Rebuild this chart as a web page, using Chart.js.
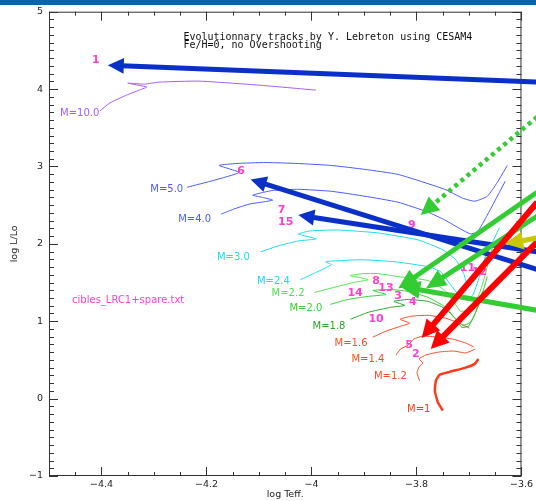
<!DOCTYPE html>
<html>
<head>
<meta charset="utf-8">
<script src="https://cdn.jsdelivr.net/npm/chart.js@4.4.1/dist/chart.umd.min.js"></script>
<style>
  html, body { margin: 0; padding: 0; background: #fff; }
  #wrap { width: 536px; height: 501px; }
</style>
</head>
<body>
<div id="wrap"><canvas id="hr"></canvas></div>
<script>
// axis labels
const xTickLabels = [-4.4, -4.2, -4.0, -3.8, -3.6];
const yTickLabels = [-1, 0, 1, 2, 3, 4, 5];

// evolutionary tracks, points are [-log Teff, log L/Lo]
const m10 = [[-4.403,3.718],[-4.384,3.821],[-4.352,3.923],[-4.328,3.987],[-4.314,4.026],[-4.350,4.077],[-4.318,4.064],[-4.290,4.090],[-4.214,4.103],[-4.100,4.051],[-3.992,3.987]];
const m5 = [[-4.237,2.731],[-4.186,2.821],[-4.138,2.923],[-4.176,3.013],[-4.144,3.038],[-4.087,3.051],[-4.025,3.038],[-3.962,3.013],[-3.898,2.962],[-3.835,2.897],[-3.746,2.705],[-3.712,2.590],[-3.689,2.551],[-3.665,2.615],[-3.646,2.795],[-3.627,3.013]];
const m4 = [[-4.172,2.385],[-4.148,2.449],[-4.119,2.513],[-4.074,2.564],[-4.095,2.603],[-4.112,2.628],[-4.091,2.667],[-4.072,2.692],[-4.025,2.705],[-3.962,2.679],[-3.898,2.615],[-3.835,2.538],[-3.778,2.410],[-3.746,2.308],[-3.716,2.192],[-3.697,2.128],[-3.684,2.154],[-3.665,2.372],[-3.631,2.808]];
const m3 = [[-4.097,1.897],[-4.063,1.974],[-4.025,2.038],[-3.991,2.064],[-4.025,2.128],[-4.002,2.167],[-3.949,2.179],[-3.873,2.141],[-3.797,2.051],[-3.750,1.923],[-3.725,1.795],[-3.710,1.615],[-3.703,1.474],[-3.691,1.513],[-3.674,1.744],[-3.655,2.026],[-3.642,2.205]];
const m24 = [[-4.021,1.538],[-3.992,1.628],[-3.962,1.731],[-3.973,1.769],[-3.949,1.782],[-3.905,1.795],[-3.841,1.769],[-3.778,1.705],[-3.754,1.641],[-3.735,1.474],[-3.722,1.359],[-3.706,1.295],[-3.693,1.333],[-3.680,1.577],[-3.669,1.833],[-3.661,2.026]];
const m22 = [[-3.994,1.372],[-3.958,1.436],[-3.920,1.500],[-3.892,1.538],[-3.926,1.590],[-3.902,1.615],[-3.873,1.615],[-3.835,1.577],[-3.778,1.526],[-3.746,1.397],[-3.727,1.231],[-3.716,1.128],[-3.699,1.154],[-3.680,1.359],[-3.665,1.705],[-3.655,1.962]];
const m20 = [[-3.964,1.218],[-3.930,1.282],[-3.892,1.321],[-3.858,1.346],[-3.883,1.397],[-3.850,1.410],[-3.816,1.385],[-3.778,1.308],[-3.744,1.179],[-3.725,1.026],[-3.712,0.949],[-3.697,0.987],[-3.680,1.231],[-3.665,1.577]];
const m18 = [[-3.926,1.026],[-3.892,1.115],[-3.850,1.179],[-3.822,1.205],[-3.843,1.256],[-3.816,1.282],[-3.778,1.256],[-3.746,1.167],[-3.725,1.026],[-3.714,0.923],[-3.701,0.936],[-3.688,1.103],[-3.674,1.385]];
const m16 = [[-3.883,0.795],[-3.858,0.872],[-3.830,0.936],[-3.813,0.974],[-3.831,1.026],[-3.811,1.064],[-3.778,1.077],[-3.744,1.038],[-3.718,0.974],[-3.699,0.910]];
const m14 = [[-3.839,0.564],[-3.830,0.641],[-3.816,0.692],[-3.805,0.769],[-3.788,0.808],[-3.759,0.795],[-3.731,0.769],[-3.706,0.718],[-3.691,0.667]];
const m12 = [[-3.794,0.231],[-3.799,0.333],[-3.795,0.410],[-3.788,0.462],[-3.795,0.513],[-3.782,0.564],[-3.756,0.603],[-3.729,0.615],[-3.706,0.590],[-3.688,0.641]];
const m1 = [[-3.750,-0.154],[-3.759,-0.051],[-3.765,0.103],[-3.763,0.231],[-3.756,0.308],[-3.737,0.346],[-3.708,0.397],[-3.689,0.449],[-3.682,0.513]];

const trackNames = ['M=10.0','M=5.0','M=4.0','M=3.0','M=2.4','M=2.2','M=2.0','M=1.8','M=1.6','M=1.4','M=1.2','M=1'];
const trackLabelX = [-4.479,-4.307,-4.254,-4.180,-4.104,-4.076,-4.042,-3.998,-3.956,-3.924,-3.881,-3.818];
const trackLabelY = [3.692,2.705,2.321,1.821,1.513,1.359,1.167,0.936,0.718,0.513,0.282,-0.141];

// numbered targets
const targetNames = ['1','6','7','15','9','11','12','8','13','14','3','4','10','5','2'];
const targetX = [-4.411,-4.134,-4.057,-4.049,-3.809,-3.703,-3.680,-3.877,-3.858,-3.917,-3.835,-3.807,-3.877,-3.814,-3.801];
const targetY = [4.372,2.936,2.436,2.282,2.244,1.692,1.628,1.513,1.423,1.359,1.321,1.244,1.026,0.692,0.577];

// arrows: [tail, head]
const blueArrows = [[[-3.570,4.090],[-4.388,4.308]], [[-3.570,1.667],[-4.116,2.833]], [[-3.570,1.897],[-4.025,2.372]]];
const dottedArrows = [[[-3.570,3.641],[-3.792,2.372]]];
const greenArrows = [[[-3.570,2.667],[-3.835,1.423]], [[-3.570,2.359],[-3.782,1.423]], [[-3.570,1.141],[-3.831,1.449]]];
const redArrows = [[[-3.570,2.538],[-3.790,0.782]], [[-3.570,2.026],[-3.773,0.641]]];
const yellowArrows = [[[-3.570,2.077],[-3.631,2.000]]];

const tracks = [m10, m5, m4, m3, m24, m22, m20, m18, m16, m14, m12, m1];
const trackColors = ['#a65cff','#4a5cff','#4a5cff','#19dcf0','#19dcf0','#55e055','#3ccc3c','#2aa52a','#ff4a2a','#ff4a2a','#ff4a2a','#ff3a1a'];

const minus = v => (v < 0 ? '\u2212' : '') + Math.abs(v);

const decor = {
    id: 'decor',
    beforeDraw(chart) {
        const ctx = chart.ctx;
        ctx.save();
        ctx.fillStyle = '#0a64a8';
        ctx.fillRect(0, 0, chart.width, 5);
        ctx.restore();
    },
    beforeDatasetsDraw(chart) {
        const { ctx, chartArea: a, scales: { x, y } } = chart;
        ctx.save();
        ctx.strokeStyle = '#333';
        ctx.lineWidth = 1;
        ctx.strokeRect(a.left + 0.5, a.top + 0.5, a.right - a.left - 1, a.bottom - a.top - 1);
        ctx.beginPath();
        for (let i = 0; i <= 18; i++) {
            const px = Math.round(x.getPixelForValue(-4.5 + i * 0.05)) + 0.5;
            const len = i % 4 === 2 ? 9 : 4;
            ctx.moveTo(px, a.bottom); ctx.lineTo(px, a.bottom - len);
            ctx.moveTo(px, a.top); ctx.lineTo(px, a.top + len);
        }
        for (let i = 0; i <= 60; i++) {
            const py = Math.round(y.getPixelForValue(-1 + i * 0.1)) + 0.5;
            const len = i % 10 === 0 ? 9 : 5;
            ctx.moveTo(a.left, py); ctx.lineTo(a.left + len, py);
            ctx.moveTo(a.right, py); ctx.lineTo(a.right - len, py);
        }
        ctx.stroke();
        ctx.restore();
    },
    afterDatasetsDraw(chart) {
        const { ctx, scales: { x, y } } = chart;
        const P = p => [x.getPixelForValue(p[0]), y.getPixelForValue(p[1])];
        ctx.save();
        ctx.textBaseline = 'middle';

        // title
        ctx.fillStyle = '#111';
        ctx.font = '10px "DejaVu Sans Mono"';
        ctx.textAlign = 'left';
        ctx.fillText('Evolutionnary tracks by Y. Lebreton using CESAM4', x.getPixelForValue(-4.244), y.getPixelForValue(4.667));
        ctx.fillText('Fe/H=0, no Overshooting', x.getPixelForValue(-4.244), y.getPixelForValue(4.564));

        // track names
        ctx.font = '10px "DejaVu Sans"';
        trackNames.forEach((t, i) => {
            ctx.fillStyle = trackColors[i];
            ctx.fillText(t, x.getPixelForValue(trackLabelX[i]), y.getPixelForValue(trackLabelY[i]));
        });

        ctx.fillStyle = '#ff3fd0';
        ctx.fillText('cibles_LRC1+spare.txt', x.getPixelForValue(-4.456), y.getPixelForValue(1.269));

        // targets
        ctx.font = 'bold 11px "DejaVu Sans"';
        ctx.textAlign = 'center';
        targetNames.forEach((t, i) => {
            ctx.fillText(t, x.getPixelForValue(targetX[i]), y.getPixelForValue(targetY[i]));
        });

        // arrows
        const arrow = (list, color, w, L, W, dash) => {
            list.forEach(([t, h]) => {
                const [x0, y0] = P(t), [x1, y1] = P(h);
                const d = Math.hypot(x1 - x0, y1 - y0);
                const ux = (x1 - x0) / d, uy = (y1 - y0) / d;
                const bx = x1 - ux * L, by = y1 - uy * L;
                ctx.strokeStyle = color;
                ctx.fillStyle = color;
                ctx.lineWidth = w;
                ctx.setLineDash(dash || []);
                ctx.beginPath();
                ctx.moveTo(x0, y0);
                ctx.lineTo(bx + ux * 2, by + uy * 2);
                ctx.stroke();
                ctx.setLineDash([]);
                ctx.beginPath();
                ctx.moveTo(x1, y1);
                ctx.lineTo(bx - uy * W, by + ux * W);
                ctx.lineTo(bx + uy * W, by - ux * W);
                ctx.closePath();
                ctx.fill();
            });
        };
        arrow(blueArrows, '#0a30c8', 5, 16, 8);
        arrow(dottedArrows, '#33cc33', 4.5, 18, 9, [4, 4]);
        arrow(greenArrows, '#33cc33', 5, 20, 9);
        arrow(redArrows, '#ff0000', 6, 18, 9);
        arrow(yellowArrows, '#c8c800', 5, 18, 9);
        ctx.restore();
    }
};

new Chart(document.getElementById('hr'), {
    type: 'line',
    data: {
        datasets: tracks.map((tr, i) => ({
            label: trackNames[i],
            data: tr.map(p => ({ x: p[0], y: p[1] })),
            borderColor: trackColors[i],
            borderWidth: i === tracks.length - 1 ? 2.5 : 1,
            pointRadius: 0,
            tension: 0.15,
            fill: false
        }))
    },
    options: {
        responsive: true,
        maintainAspectRatio: false,
        animation: false,
        layout: { padding: { left: 0, right: 12, top: 8, bottom: 0 } },
        plugins: { legend: { display: false }, tooltip: { enabled: false } },
        scales: {
            x: {
                type: 'linear',
                min: -4.5,
                max: -3.6,
                grid: { display: false, drawTicks: false },
                border: { display: false },
                afterBuildTicks: s => { s.ticks = xTickLabels.map(v => ({ value: v })); },
                afterFit: s => { s.height = 25; },
                ticks: {
                    callback: v => minus(v.toFixed(1)),
                    font: { family: 'DejaVu Sans', size: 9.5 },
                    color: '#222',
                    padding: 3,
                    maxRotation: 0,
                    autoSkip: false
                },
                title: {
                    display: true,
                    text: 'log Teff.',
                    font: { family: 'DejaVu Sans', size: 9.5 },
                    color: '#222',
                    padding: { top: 0, bottom: 1 }
                }
            },
            y: {
                type: 'linear',
                min: -1,
                max: 5,
                grid: { display: false, drawTicks: false },
                border: { display: false },
                afterBuildTicks: s => { s.ticks = yTickLabels.map(v => ({ value: v })); },
                afterFit: s => { s.width = 49; },
                ticks: {
                    callback: v => minus(v),
                    font: { family: 'DejaVu Sans', size: 9.5 },
                    color: '#222',
                    padding: 6
                },
                title: {
                    display: true,
                    text: 'log L/Lo',
                    font: { family: 'DejaVu Sans', size: 9.5 },
                    color: '#222',
                    padding: { top: 9, bottom: 0 }
                }
            }
        }
    },
    plugins: [decor]
});
</script>
</body>
</html>
